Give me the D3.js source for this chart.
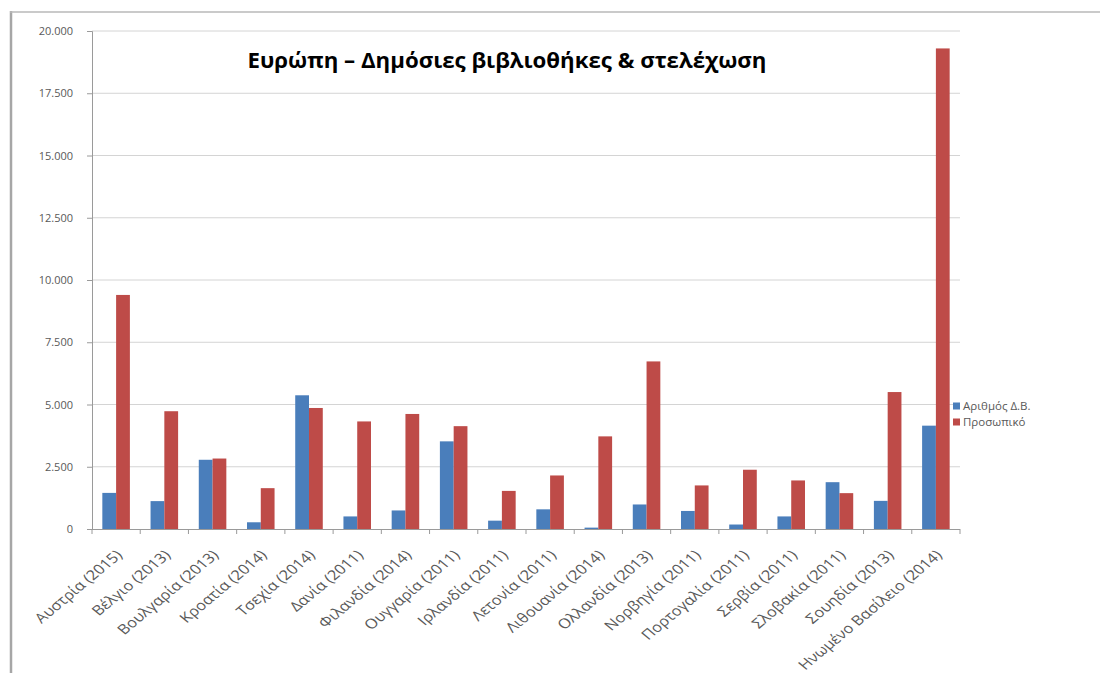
<!DOCTYPE html>
<html>
<head>
<meta charset="utf-8">
<script src="https://cdn.jsdelivr.net/npm/d3@7"></script>
<style>
  html, body { margin: 0; padding: 0; background: #fff; }
  svg { display: block; }
</style>
</head>
<body>
<svg id="chart" width="1100" height="673"></svg>
<script>
// ---- data ----
const categories = [
  "Αυστρία (2015)", "Βέλγιο (2013)", "Βουλγαρία (2013)", "Κροατία (2014)",
  "Τσεχία (2014)", "Δανία (2011)", "Φιλανδία (2014)", "Ουγγαρία (2011)",
  "Ιρλανδία (2011)", "Λετονία (2011)", "Λιθουανία (2014)", "Ολλανδία (2013)",
  "Νορβηγία (2011)", "Πορτογαλία (2011)", "Σερβία (2011)", "Σλοβακία (2011)",
  "Σουηδία (2013)", "Ηνωμένο Βασίλειο (2014)"
];
const seriesNames = ["Αριθμός Δ.Β.", "Προσωπικό"];
const libraries = [1450, 1120, 2780, 270, 5370, 505, 745, 3520, 335, 790, 55, 985, 725, 180, 505, 1880, 1130, 4150];
const staff = [9400, 4730, 2830, 1640, 4860, 4320, 4620, 4130, 1530, 2150, 3720, 6730, 1750, 2380, 1950, 1440, 5500, 19300];
const yTicks = [0, 2500, 5000, 7500, 10000, 12500, 15000, 17500, 20000];
const title = "Ευρώπη – Δημόσιες βιβλιοθήκες & στελέχωση";
const colors = ["#4A7EBB", "#BE4B48"];

// ---- layout ----
const svg = d3.select("#chart");
const plot = { left: 92, right: 960, top: 31, bottom: 529 };
const font = "'Open Sans', 'Noto Sans', sans-serif";

// outer frame (as in screenshot)
svg.append("line").attr("x1", 11).attr("x2", 11).attr("y1", 11).attr("y2", 673)
  .attr("stroke", "#A6A6A6").attr("stroke-width", 2.5);
svg.append("line").attr("x1", 10).attr("x2", 1100).attr("y1", 12).attr("y2", 12)
  .attr("stroke", "#B8B8B8").attr("stroke-width", 1.5);

const x0 = d3.scaleBand().domain(categories)
  .range([plot.left, plot.right]).paddingInner(1.5 / 3.5).paddingOuter(0.75 / 3.5);
const x1 = d3.scaleBand().domain(seriesNames).range([0, x0.bandwidth()]);
const y = d3.scaleLinear().domain([0, 20000]).range([plot.bottom, plot.top]);

const fmt = d3.formatLocale({ decimal: ",", thousands: ".", grouping: [3], currency: ["", ""] }).format(",");

// gridlines
svg.append("g").selectAll("line").data(yTicks.filter(d => d > 0)).join("line")
  .attr("x1", plot.left).attr("x2", plot.right)
  .attr("y1", d => y(d)).attr("y2", d => y(d))
  .attr("stroke", "#D4D4D4").attr("stroke-width", 1);

// y axis
const yAxis = svg.append("g").attr("transform", `translate(${plot.left},0)`)
  .call(d3.axisLeft(y).tickValues(yTicks).tickFormat(fmt).tickSize(5).tickPadding(14));
yAxis.select(".domain").attr("stroke", "#9A9A9A");
yAxis.selectAll(".tick line").attr("stroke", "#9A9A9A");
yAxis.selectAll("text").attr("fill", "#595959").style("font-family", font).style("font-size", "11px");

// bars
const data = categories.map((c, i) => ({ c, vals: [libraries[i], staff[i]] }));
const groups = svg.append("g").selectAll("g").data(data).join("g")
  .attr("transform", d => `translate(${x0(d.c)},0)`);
groups.selectAll("rect").data(d => d.vals.map((v, k) => ({ k, v }))).join("rect")
  .attr("x", d => x1(seriesNames[d.k]))
  .attr("width", x1.bandwidth())
  .attr("y", d => y(d.v))
  .attr("height", d => y(0) - y(d.v))
  .attr("fill", d => colors[d.k]);

// x axis line and ticks between categories
svg.append("line").attr("x1", plot.left).attr("x2", plot.right)
  .attr("y1", plot.bottom + 0.5).attr("y2", plot.bottom + 0.5).attr("stroke", "#9A9A9A");
const bounds = categories.map(c => x0(c) - x0.step() * x0.paddingOuter()).concat([plot.right]);
svg.append("g").selectAll("line").data(bounds).join("line")
  .attr("x1", d => d).attr("x2", d => d)
  .attr("y1", plot.bottom).attr("y2", plot.bottom + 5).attr("stroke", "#9A9A9A");

// x labels (45° rotation in a horizontally stretched picture)
const sx = 1.2;
const xl = svg.append("g").selectAll("text").data(categories).join("text")
  .attr("transform", c => `translate(${x0(c) + x0.bandwidth() / 2 + 7},${plot.bottom + 27}) scale(${sx},1) rotate(-45)`)
  .attr("text-anchor", "end")
  .attr("fill", "#595959")
  .style("font-family", font).style("font-size", "11px")
  .text(c => c);
const lw = xl.nodes()[0].getComputedTextLength();
xl.style("font-size", (11 * 96 / lw).toFixed(2) + "px");

// title
const t = svg.append("text").attr("x", 507).attr("y", 68).attr("text-anchor", "middle")
  .style("font-family", font).style("font-weight", "bold").style("font-size", "18px")
  .attr("fill", "#000").text(title);
const tw = t.node().getComputedTextLength();
t.style("font-size", (18 * 519 / tw).toFixed(2) + "px");

// legend
const lg = svg.append("g").attr("transform", "translate(953,406)");
seriesNames.forEach((s, i) => {
  lg.append("rect").attr("x", 0).attr("y", i * 16 - 3.5).attr("width", 7).attr("height", 7).attr("fill", colors[i]);
  lg.append("text").attr("x", 10).attr("y", i * 16 + 4)
    .attr("fill", "#595959").style("font-family", font).style("font-size", "11.5px").text(s);
});
</script>
</body>
</html>
